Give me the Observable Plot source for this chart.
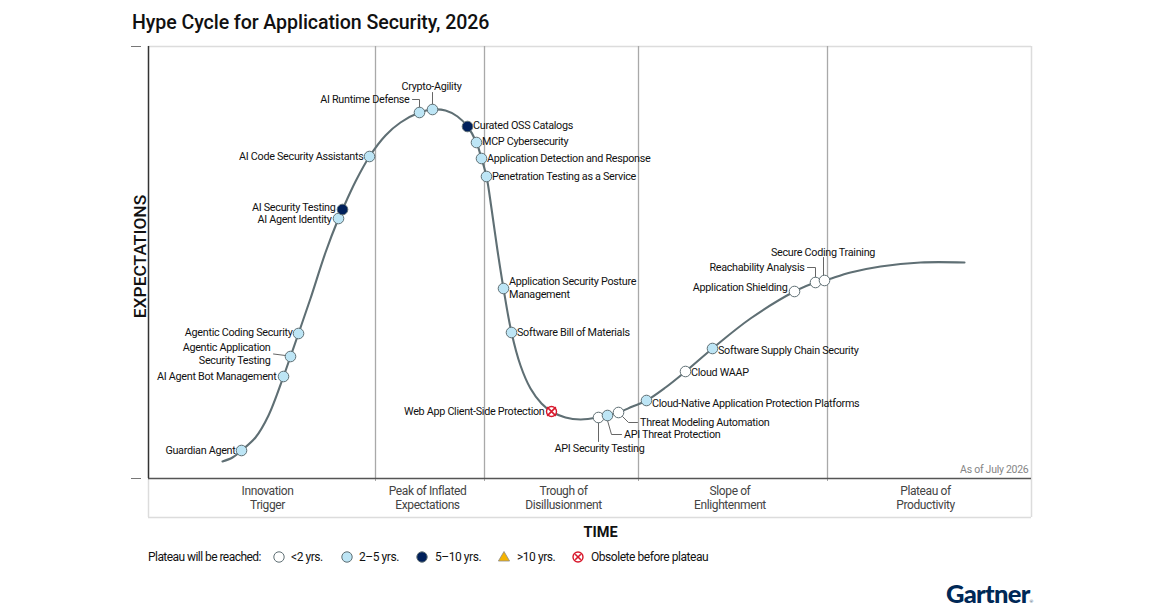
<!DOCTYPE html>
<html><head><meta charset="utf-8">
<script src="https://cdn.jsdelivr.net/npm/d3@7"></script>
<script src="https://cdn.jsdelivr.net/npm/@observablehq/plot@0.6"></script>
<style>
html,body{margin:0;padding:0;background:#fff;width:1170px;height:613px;overflow:hidden}
body{position:relative;font-family:Roboto,sans-serif;color:#111}
#title{position:absolute;left:132px;top:10px;font-size:19.6px;font-weight:500;line-height:26px;white-space:nowrap;letter-spacing:-.08px}
#chart{position:absolute;left:0;top:40px}
#chart svg{display:block}
#legend{position:absolute;left:0;top:548px;width:1170px;height:18px;font-size:12px;line-height:18px}
#legend span{position:absolute;top:0;white-space:nowrap;letter-spacing:-.45px}
#legend span:first-child{letter-spacing:-.55px}
#legend svg{position:absolute;top:2px;overflow:visible}
#logo{position:absolute;left:946px;top:578px;font-family:Lato,sans-serif;font-weight:900;font-size:25.5px;line-height:30px;color:#002856;letter-spacing:-.7px;white-space:nowrap}
#logo sup{font-size:4.5px;font-weight:400;letter-spacing:0;vertical-align:baseline;margin-left:0}
</style></head><body>
<div id="title">Hype Cycle for Application Security, 2026</div>
<div id="chart"></div>
<div id="legend"></div>
<div id="logo">Gartner<sup>®</sup></div>
<script>
// Hype curve
const curveTime = [74,84,93,107,120,135,142,150,162,177,190,194,207,221,237,252,271,284,297,309,319,328,333,338,343,349,355,363,372,382,393,403,417,432,450,459,470,484,498,517,537,564,602,646,667,676,702,732,772,816];
const curveExpect = [17,21,28,41,63,102,122,145,180,226,260,269,297,322,343,356,366,369,368,362,352,336,320,302,270,228,190,146,113,90,75,67,61,59,61,63,66,72,78,91,107,130,160,187,196,198,206,212,216,216];

// Technologies
const techNames = ["Guardian Agent","AI Agent Bot Management","Agentic Application\nSecurity Testing","Agentic Coding Security","AI Agent Identity","AI Security Testing","AI Code Security Assistants","AI Runtime Defense","Crypto-Agility","Curated OSS Catalogs","MCP Cybersecurity","Application Detection and Response","Penetration Testing as a Service","Application Security Posture\nManagement","Software Bill of Materials","Web App Client-Side Protection","API Security Testing","API Threat Protection","Threat Modeling Automation","Cloud-Native Application Protection Platforms","Cloud WAAP","Software Supply Chain Security","Application Shielding","Reachability Analysis","Secure Coding Training"];
const techTime = [93,135,142,150,190,194,221,271,284,319,328,333,338,355,363,403,450,459,470,498,537,564,646,667,676];
const techExpect = [28,102,122,145,260,269,322,366,369,352,336,320,302,190,146,67,61,63,66,78,107,130,187,196,198];
const techClass = ["2-5","2-5","2-5","2-5","2-5","5-10","2-5","2-5","2-5","5-10","2-5","2-5","2-5","2-5","2-5","obs","<2","2-5","<2","2-5","<2","2-5","<2","<2","<2"];
const labelTime = [87,128,122,144,183,187,215,261,283,325,334,339,344,361,369,396,451,476,492,504,543,570,639,656,674.5];
const labelExpect = [28,102,124,146,259,271,322,379,392,353,337,320,302,190,146,67,30,44,56,75,106,128,191,211,226];
const labelAnchor = ["end","end","end","end","end","end","end","end","middle","start","start","start","start","start","start","end","middle","start","start","start","start","start","end","end","middle"];

// Leader lines
const leaderId = [0,0,0, 1,1, 2,2, 3,3, 4,4,4, 5,5,5, 6,6,6, 7,7];
const leaderTime = [264,271,271, 284,284, 125,137, 450,450, 459,463,473, 474,480,489, 659,667,667, 675,675];
const leaderExpect = [379,379,371, 386,374, 124.5,123, 56,37, 58,44,44, 62,56,56, 211,211,201, 221,203];

// Phases
const phaseEdges = [227,336,490,679];
const phaseNames = ["Innovation\nTrigger","Peak of Inflated\nExpectations","Trough of\nDisillusionment","Slope of\nEnlightenment","Plateau of\nProductivity"];
const phaseCenters = [119,279,415,581.5,777];

// Legend
const legendClasses = ["<2","2-5","5-10",">10","obs"];
const legendLabels = ["<2 yrs.","2–5 yrs.","5–10 yrs.",">10 yrs.","Obsolete before plateau"];

const fills = {"<2":"#ffffff","2-5":"#bde5f5","5-10":"#00205b"};
const ink = "#5f6f74";
const curve = curveTime.map((t,i)=>({t,e:curveExpect[i]}));
const tech = techNames.map((n,i)=>({n,t:techTime[i],e:techExpect[i],c:techClass[i],lt:labelTime[i],le:labelExpect[i],a:labelAnchor[i]}));
const leaders = leaderId.map((id,i)=>({id,t:leaderTime[i],e:leaderExpect[i]}));
const phases = phaseNames.map((n,i)=>({n,t:phaseCenters[i]}));
const normal = tech.filter(d=>d.c!=="obs");
const obsolete = tech.filter(d=>d.c==="obs");

const labelMark = a => Plot.text(tech.filter(d=>d.a===a),{x:"lt",y:"le",dx:a==="start"?-0.5:0,dy:-0.8,text:"n",textAnchor:a,lineAnchor:"middle",lineHeight:1.2,fontSize:10.8,fill:"#111"});

const plot = Plot.plot({
  width:1170,height:500,
  marginLeft:148,marginRight:139,marginTop:6,marginBottom:62,
  x:{domain:[0,883]},
  y:{domain:[0,432]},
  style:{fontFamily:"Roboto,sans-serif",background:"transparent",overflow:"visible"},
  marks:[
    Plot.ruleY([432],{stroke:"#dcdcdc",strokeWidth:1.5}),
    Plot.ruleY([-39],{stroke:"#dcdcdc",strokeWidth:1.5}),
    Plot.ruleX([883],{y1:-39,y2:432,stroke:"#dcdcdc",strokeWidth:1.5}),
    Plot.ruleX([0],{y1:-39,y2:0,stroke:"#dcdcdc",strokeWidth:1.5}),
    Plot.ruleX(phaseEdges,{y1:0,y2:432,stroke:"#a9a9a9",strokeWidth:1.3}),
    Plot.axisX({ticks:phaseEdges,tickSize:3,tickFormat:()=>"",stroke:"#a9a9a9",label:null}),
    Plot.axisY({ticks:[0,432],tickSize:10,dx:-7,tickFormat:()=>"",stroke:"#777",label:null}),
    Plot.ruleY([0],{stroke:"#555",strokeWidth:1.5}),
    Plot.ruleX([0],{y1:0,y2:432,stroke:"#333",strokeWidth:1.5}),
    Plot.text(["EXPECTATIONS"],{x:-8.5,y:222,text:d=>d,rotate:-90,fontSize:17.4,fontWeight:500,fill:"#111"}),
    Plot.text(["TIME"],{x:452,y:-54,text:d=>d,fontSize:14.5,fontWeight:700,fill:"#111"}),
    Plot.text(["As of July 2026"],{x:880,y:9,text:d=>d,textAnchor:"end",fontSize:10.5,fill:"#858585"}),
    Plot.text(phases,{x:"t",y:-19.2,text:"n",lineAnchor:"middle",lineHeight:1.2,fontSize:12,fill:"#444"}),
    Plot.line(curve,{x:"t",y:"e",stroke:ink,strokeWidth:2.1,curve:"catmull-rom"}),
    Plot.line(leaders,{x:"t",y:"e",z:"id",stroke:"#666",strokeWidth:1}),
    labelMark("start"),labelMark("middle"),labelMark("end"),
    Plot.dot(normal,{x:"t",y:"e",r:5.3,fill:d=>fills[d.c],stroke:ink,strokeWidth:1}),
    Plot.dot(obsolete,{x:"t",y:"e",r:5,fill:"#fff",stroke:"#d8182c",strokeWidth:1.4}),
    Plot.dot(obsolete,{x:"t",y:"e",r:4,symbol:"times",stroke:"#d8182c",strokeWidth:1.6})
  ]
});
document.getElementById("chart").append(plot);

// Tighten the text tracking, group by group
const tracking = {"10.8":"-.3px","12":"-.4px","10.5":"-.27px"};
plot.querySelectorAll("g[font-size]").forEach(g=>{
  const ls = tracking[g.getAttribute("font-size")];
  if(ls) g.querySelectorAll("text").forEach(t=>t.setAttribute("letter-spacing",ls));
});

// Legend row below the chart
const legend = d3.select("#legend");
const leftOf = {"<2":[279,291],"2-5":[347,359],"5-10":[422,435],">10":[504,517],"obs":[578,591]};
legend.append("span").style("left","148px").text("Plateau will be reached:");
legendClasses.forEach((c,i)=>{
  const [sx,tx]=leftOf[c];
  const s=legend.append("svg").attr("width",14).attr("height",14).style("left",(sx-7)+"px");
  if(c===">10") s.append("path").attr("d","M7,1.5L12.6,11H1.4Z").attr("fill","#f5b300").attr("stroke","#8a8a8a").attr("stroke-width",.8);
  else if(c==="obs"){
    s.append("circle").attr("cx",7).attr("cy",7).attr("r",5).attr("fill","#fff").attr("stroke","#d8182c").attr("stroke-width",1.4);
    s.append("path").attr("d","M4.2,4.2L9.8,9.8M9.8,4.2L4.2,9.8").attr("stroke","#d8182c").attr("stroke-width",1.6);
  } else s.append("circle").attr("cx",7).attr("cy",7).attr("r",5.2).attr("fill",fills[c]).attr("stroke",ink).attr("stroke-width",1);
  legend.append("span").style("left",tx+"px").text(legendLabels[i]);
});
</script>
</body></html>
